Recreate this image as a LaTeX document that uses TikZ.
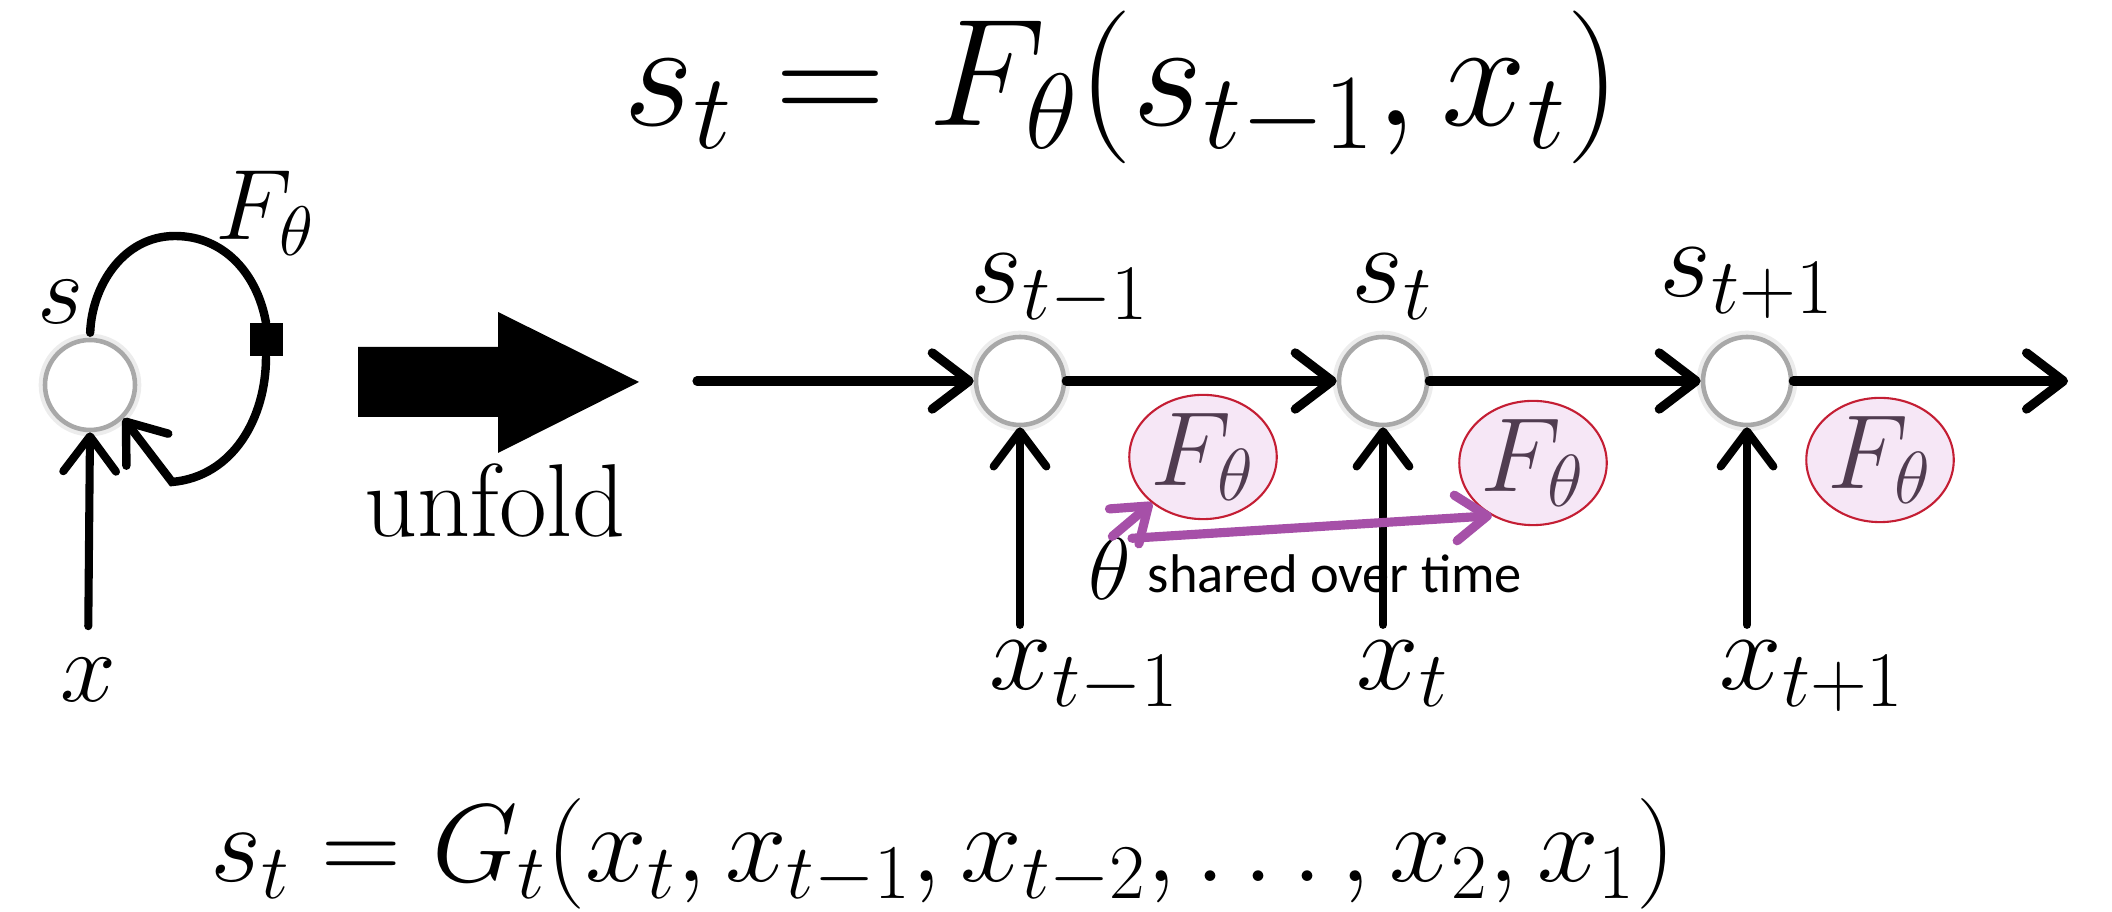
\RequirePackage{fix-cm}
\documentclass[tikz,border=0pt]{standalone}
\usepackage{amsmath,amssymb}
\usepackage{fontspec}
\newfontfamily\calibri{Carlito}
\usepackage{xcolor}
\usepackage{tikz}
\usetikzlibrary{arrows.meta, positioning, shapes.geometric}

\definecolor{ringgray}{gray}{0.66}
\definecolor{sharepurple}{RGB}{166,80,168}
\definecolor{fpink}{RGB}{246,231,246}
\definecolor{fred}{RGB}{196,30,52}
\definecolor{ftext}{RGB}{80,60,80}

\begin{document}
\begin{tikzpicture}[
    x=0.1mm, y=0.1mm,
    state/.style={circle, draw=ringgray, line width=1.3pt, fill=white, minimum size=8.8mm, inner sep=0pt, preaction={draw=gray!15, line width=3.6pt}},
    fbox/.style={ellipse, draw=fred, line width=0.6pt, fill=fpink, text=ftext, minimum width=12mm, minimum height=11mm, inner sep=0pt, font=\fontsize{30}{36}\selectfont},
    lbl/.style={inner sep=0pt, font=\fontsize{32}{38}\selectfont},
    smalllbl/.style={inner sep=0pt, font=\fontsize{28.5}{34}\selectfont},
    flow/.style={-{Straight Barb[length=10.5pt, width=16pt, round]}, line width=2.6pt, line cap=round},
    inarrow/.style={-{Straight Barb[length=10pt, width=15pt, round]}, line width=2.3pt, line cap=round},
    share/.style={-{Straight Barb[length=9pt, width=13pt, round]}, line width=2.6pt, line cap=round, draw=sharepurple}
]
    \useasboundingbox (0,0) rectangle (2112,912);

    % equations
    \node[inner sep=0pt, font=\fontsize{43.5}{52}\selectfont, anchor=base] (topeq) at (1122,786) {$s_t = F_\theta(s_{t-1}, x_t)$};
    \node[inner sep=0pt, font=\fontsize{31.5}{38}\selectfont, anchor=base] (boteq) at (943,30) {$s_t = G_t(x_t, x_{t-1}, x_{t-2}, \ldots, x_2, x_1)$};

    % folded network
    \node[state, minimum size=9mm] (c0) at (90,527) {};
    \node[fill=black, minimum size=3.3mm, inner sep=0pt] (delay) at (266,572) {};
    \coordinate (looptop) at (175,676);
    \coordinate (loopbot) at (172,430);
    \draw[line width=2.4pt, line cap=round, shorten <=0.5mm] (c0.north) to[out=88, in=180] (looptop) to[out=0, in=100] (delay.north);
    \draw[inarrow, line width=2.4pt] (delay.south) to[out=-90, in=5] (loopbot) -- (c0.-45);
    \node[smalllbl, anchor=base] (slbl) at (61,588) {$s$};
    \node[smalllbl, anchor=base west] (flbl) at (215,672) {$F_\theta$};
    \node[smalllbl, anchor=base] (xlbl) at (88,210) {$x$};
    \draw[inarrow, shorten <=3.2mm] (xlbl.north) -- (c0.south);

    % unfold arrow
    \fill (358,495) -- (498,495) -- (498,459) -- (639,530) -- (498,600) -- (498,565) -- (358,565) -- cycle;
    \node[inner sep=0pt, font=\fontsize{29.5}{35}\selectfont, anchor=base] (unfoldlbl) at (495,375) {unfold};

    % unfolded chain
    \node[state] (c1) at (1020,531) {};
    \node[state, on grid, right=36.3mm of c1] (c2) {};
    \node[state, on grid, right=36.4mm of c2] (c3) {};
    \coordinate (chainin) at (697,531);
    \coordinate (chainout) at (2068,531);
    \draw[flow] (chainin) -- (c1);
    \draw[flow] (c1) -- (c2);
    \draw[flow] (c2) -- (c3);
    \draw[flow] (c3) -- (chainout);

    \node[lbl, anchor=base west] (s1) at (970,609) {$s_{t-1}$};
    \node[lbl, anchor=base west] (s2) at (1351,609) {$s_t$};
    \node[lbl, anchor=base west] (s3) at (1659,615) {$s_{t+1}$};

    \node[lbl, anchor=base west] (x1) at (989,222) {$x_{t-1}$};
    \node[lbl, anchor=base west] (x2) at (1356,222) {$x_t$};
    \node[lbl, anchor=base west] (x3) at (1719,222) {$x_{t+1}$};
    \draw[inarrow, shorten <=1.6mm] (c1 |- x1.north) -- (c1);
    \draw[inarrow, shorten <=1.6mm] (c2 |- x2.north) -- (c2);
    \draw[inarrow, shorten <=1.6mm] (c3 |- x3.north) -- (c3);

    % shared parameters
    \node[fbox] (f1) at (1203,455) {$F_\theta$};
    \node[fbox] (f2) at (1533,449) {$F_\theta$};
    \node[fbox] (f3) at (1880,452) {$F_\theta$};
    \node[inner sep=0pt, font=\fontsize{25}{30}\selectfont, anchor=base] (theta) at (1110,312) {$\theta$};
    \node[inner sep=0pt, font=\calibri\fontsize{15.5}{18}\selectfont, anchor=base west] (sharedlbl) at (1147,319) {shared over time};
    \draw[share, shorten <=0.3mm] (theta.north) -- (f1.222);
    \draw[share] (theta.north east) -- (f2.232);

\end{tikzpicture}
\end{document}
